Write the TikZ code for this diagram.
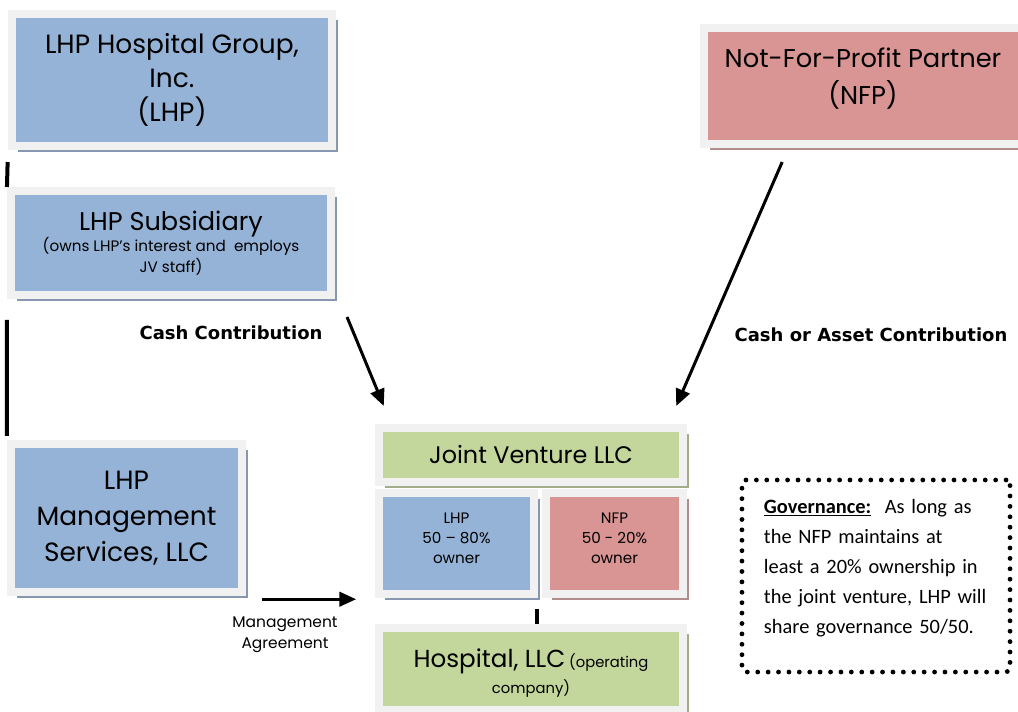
\documentclass[tikz,border=0pt]{standalone}
\usepackage{fontspec}
\setmainfont{Poppins}
\newfontfamily\govfont{Carlito}
\newfontfamily\labelfont{DejaVu Sans}
\usetikzlibrary{arrows.meta,shadows}

\definecolor{framegray}{HTML}{F1F1F1}
\definecolor{boxblue}{HTML}{95B3D7}
\definecolor{boxred}{HTML}{D99594}
\definecolor{boxgreen}{HTML}{C3D69B}
\definecolor{shadeblue}{HTML}{8797B0}
\definecolor{shadered}{HTML}{B38C8C}
\definecolor{shadegreen}{HTML}{A3AD8C}

\newcommand{\smalltext}{\fontsize{10.8}{14.5}\selectfont}

\tikzset{
  box/.style={draw=framegray, line width=0.2cm, align=center, text=black, inner sep=2pt},
  bluebox/.style={box, fill=boxblue, drop shadow={shadow xshift=0.15cm, shadow yshift=-0.15cm, fill=shadeblue, opacity=1}},
  redbox/.style={box, fill=boxred, drop shadow={shadow xshift=0.15cm, shadow yshift=-0.15cm, fill=shadered, opacity=1}},
  greenbox/.style={box, fill=boxgreen, drop shadow={shadow xshift=0.15cm, shadow yshift=-0.15cm, fill=shadegreen, opacity=1}},
  link/.style={line width=0.1cm},
  flow/.style={->, line width=0.075cm},
  flowlabel/.style={font=\labelfont\bfseries\fontsize{12.8}{15}\selectfont},
}

\begin{document}
\begin{tikzpicture}[x=0.025cm, y=-0.025cm, >={Triangle[length=0.42cm,width=0.36cm]}]
\useasboundingbox (0,0) rectangle (1018,711);
\clip (0,0) rectangle (1018,711);

% left column
\node[bluebox, minimum width=8cm, minimum height=3.3cm, font=\fontsize{18.8}{24}\selectfont] (lhp) at (172,80) {LHP Hospital Group,\\ Inc.\\ (LHP)};
\node[bluebox, minimum width=8cm, minimum height=2.6cm, font=\fontsize{10.8}{15}\selectfont] (sub) at (171,243) {{\fontsize{18.2}{22}\selectfont LHP Subsidiary}\\ (owns LHP’s interest and\ \ employs\\ JV staff)};
\node[bluebox, minimum width=5.775cm, minimum height=3.7cm, font=\fontsize{18.8}{25.5}\selectfont] (mgmt) at (126.5,518) {LHP\\ Management\\ Services, LLC};

% partner
\node[redbox, minimum width=7.95cm, minimum height=2.9cm, font=\fontsize{18.3}{27}\selectfont, text height=41pt, text depth=14pt] (nfp) at (863,86) {Not-For-Profit Partner\\ (NFP)};

% joint venture
\node[greenbox, minimum width=7.6cm, minimum height=1.35cm, font=\fontsize{17}{20}\selectfont] (jv) at (531,455) {Joint Venture LLC};
\node[bluebox, minimum width=3.875cm, minimum height=2.525cm, font=\smalltext, text height=33pt, text depth=4pt] (lhpown) at (456.5,543.5) {LHP\\ 50 – 80\%\\ owner};
\node[redbox, minimum width=3.425cm, minimum height=2.525cm, font=\smalltext, text height=33pt, text depth=4pt] (nfpown) at (614.5,543.5) {NFP\\ 50 - 20\%\\ owner};
\node[greenbox, minimum width=7.6cm, minimum height=2.05cm, font=\fontsize{10.5}{18.5}\selectfont, text height=37pt, text depth=2pt] (hosp) at (531,669) {{\fontsize{17.5}{20}\selectfont Hospital, LLC} (operating\\ company)};

% governance note
\node[draw, line width=0.12cm, line cap=round, dash pattern=on 0pt off 0.26cm, rounded corners=0.1cm,
  minimum width=6.7cm, minimum height=4.8cm, text width=5.6cm, align=left, text height=10pt, text depth=99.6pt,
  font=\govfont\fontsize{14.5}{21.5}\selectfont] (gov) at (876,576)
  {\underline{\textbf{Governance:}}\ \ As long as\\ the NFP maintains at\\ least a 20\% ownership in\\ the joint venture, LHP will\\ share governance 50/50.};

% ownership lines
\draw[link, shorten <=0.3cm] (lhp.south west) -- (sub.north west);
\draw[link, shorten <=0.52cm, shorten >=0.1cm] (sub.south west) -- (mgmt.north west);
\draw[link, shorten <=0.27cm] ([xshift=-0.03cm]lhpown.south east) -- ([xshift=-0.03cm]lhpown.south east |- hosp.north);

% contributions
\draw[flow] ([shift={(0.3cm,-0.45cm)}]sub.south east) -- ([shift={(0.22cm,0.45cm)}]jv.north west);
\draw[flow] ([shift={(-2.02cm,-0.35cm)}]nfp.south) -- ([shift={(-0.27cm,0.45cm)}]jv.north east);
\draw[flow, shorten <=0.4cm, shorten >=0.47cm] ([yshift=-0.08cm]mgmt.south east) -- ([yshift=-0.08cm]mgmt.south east -| lhpown.west);

% labels
\node[flowlabel] (cashlbl) at (231,333) {Cash Contribution};
\node[flowlabel] (assetlbl) at (871,335) {Cash or Asset Contribution};
\node[align=center, font=\fontsize{11}{15}\selectfont] (mgmtlbl) at (285,635) {Management\\ Agreement};
\end{tikzpicture}
\end{document}
